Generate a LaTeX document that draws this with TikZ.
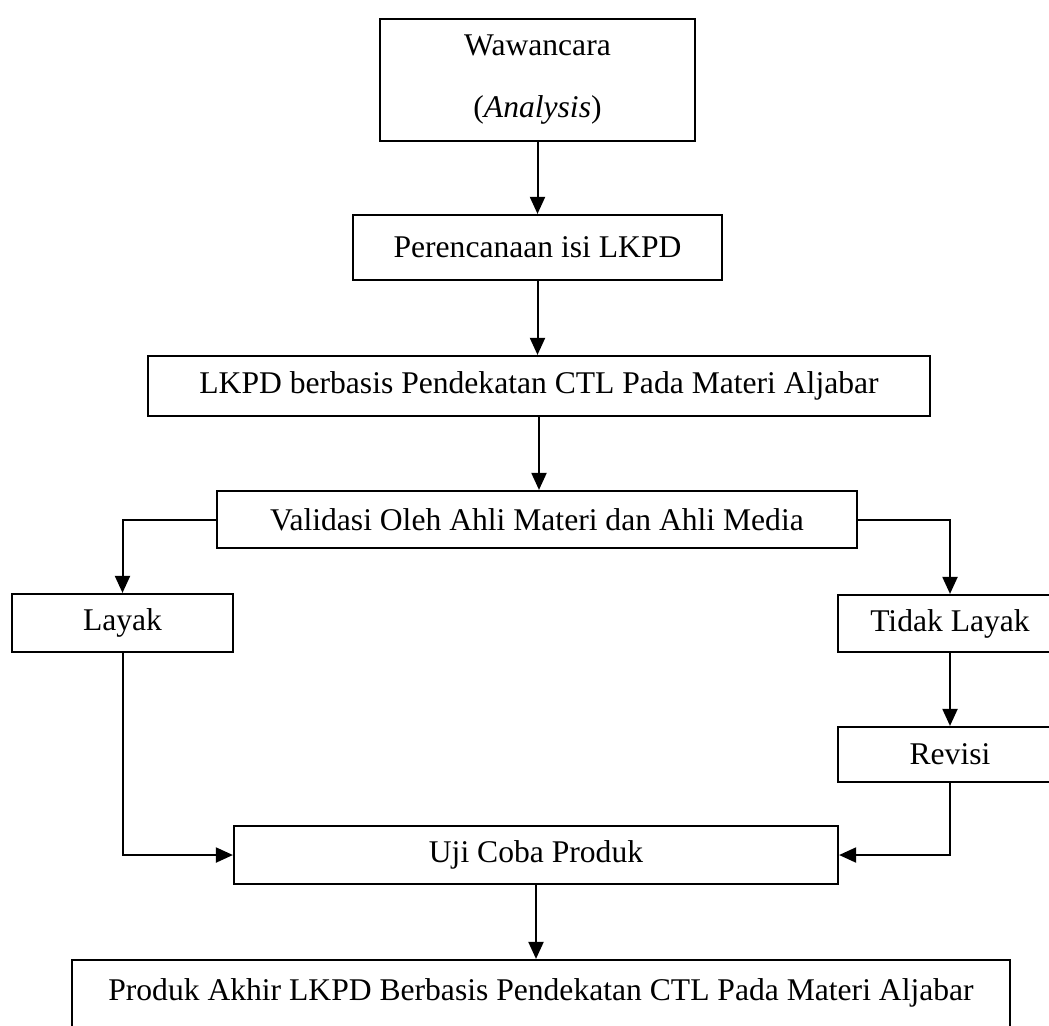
\documentclass[tikz,border=0pt]{standalone}
\usepackage{fontspec}
\setmainfont{Liberation Serif}
\usepackage{tikz}
\usetikzlibrary{arrows.meta, positioning, calc}

\tikzset{
    kotak/.style={draw, line width=1.1pt, rectangle, align=center, inner sep=0pt,
        font=\fontsize{15.8}{31}\selectfont},
    panah/.style={line width=1pt, -{Triangle[length=8.5pt, width=7.5pt]}},
    garis/.style={line width=1pt}
}

\begin{document}
\begin{tikzpicture}[x=0.5pt, y=-0.5pt]
    \useasboundingbox (0,0) rectangle (1049,1025);
    \clip (0,0) rectangle (1049,1025);

    \node[kotak, minimum width=157.5pt, minimum height=61pt] (waw) at (537.5,80) {Wawancara\\(\textit{Analysis})};
    \node[kotak, minimum width=184.5pt, minimum height=32.5pt] (plan) at (537.5,247.5) {Perencanaan isi LKPD};
    \node[kotak, minimum width=391pt, minimum height=30pt] (lkpd) at (539,386) {LKPD berbasis Pendekatan CTL Pada Materi Aljabar};
    \node[kotak, minimum width=320pt, minimum height=28.5pt] (valid) at (537,519.5) {Validasi Oleh Ahli Materi dan Ahli Media};
    \node[kotak, minimum width=110.5pt, minimum height=29pt] (layak) at (122.5,623) {Layak};
    \node[kotak, minimum width=112pt, minimum height=28.5pt] (tidak) at (950,623.5) {Tidak Layak};
    \node[kotak, minimum width=112pt, minimum height=27.5pt] (revisi) at (950,754.5) {Revisi};
    \node[kotak, minimum width=302pt, minimum height=29pt] (uji) at (536,855) {Uji Coba Produk};
    \node[kotak, minimum width=469pt, minimum height=61pt] (akhir) at (541,1021) {Produk Akhir LKPD Berbasis Pendekatan CTL Pada Materi Aljabar\\\mbox{}};

    \draw[panah] (waw.south) -- (plan.north);
    \draw[panah] (plan.south) -- (plan.south |- lkpd.north);
    \draw[panah] (lkpd.south) -- (lkpd.south |- valid.north);
    \draw[panah] (valid.west) -| (layak.north);
    \draw[panah] (valid.east) -| (tidak.north);
    \draw[panah] (tidak.south) -- (revisi.north);
    \draw[panah] (layak.south) |- (uji.west);
    \draw[panah] (revisi.south) |- (uji.east);
    \draw[panah] (uji.south) -- (uji.south |- akhir.north);
\end{tikzpicture}
\end{document}
